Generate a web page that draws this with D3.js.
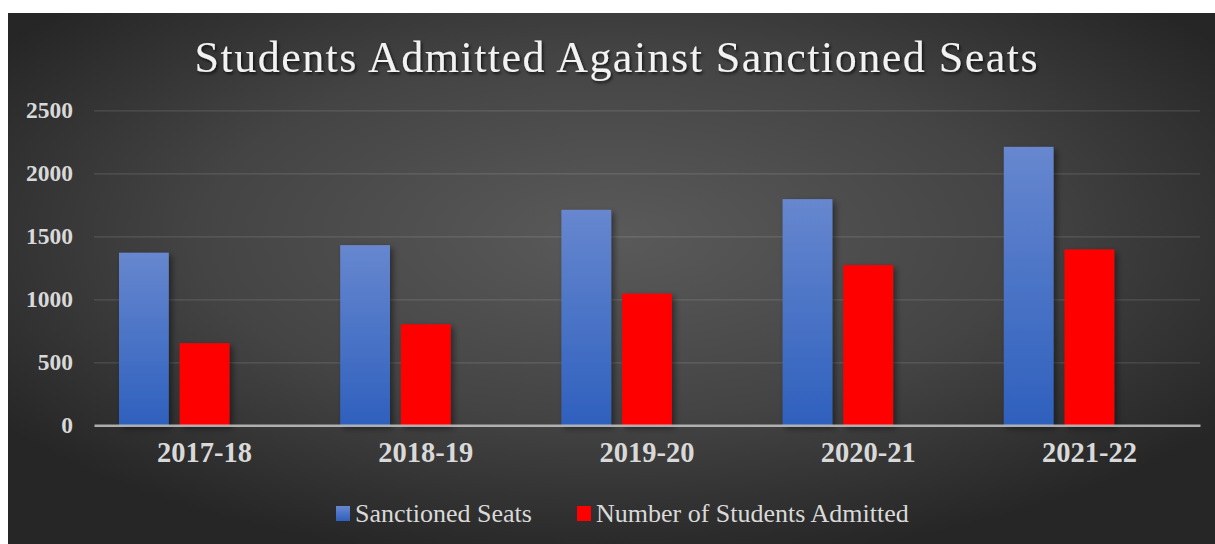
<!DOCTYPE html>
<html>
<head>
<meta charset="utf-8">
<script src="https://cdn.jsdelivr.net/npm/d3@7"></script>
<style>
  html, body { margin: 0; padding: 0; background: #ffffff; }
  svg { display: block; }
</style>
</head>
<body>
<svg id="chart" width="1215" height="544"></svg>
<script>
// Academic years on the category axis
const years = ["2017-18", "2018-19", "2019-20", "2020-21", "2021-22"];
// Series values per year
const sanctionedSeats = [1370, 1430, 1710, 1795, 2210];
const studentsAdmitted = [652, 802, 1045, 1272, 1396];
// Series names shown in the legend
const seriesNames = ["Sanctioned Seats", "Number of Students Admitted"];
// Value axis ticks
const yTicks = [0, 500, 1000, 1500, 2000, 2500];
const chartTitle = "Students Admitted Against Sanctioned Seats";

const svg = d3.select("#chart");
const W = 1215, H = 544;
const panel = { x: 8, y: 13, w: W - 8, h: H - 13 };
const plot = { left: 94, right: 1200, top: 110.3, bottom: 425.3 };

const defs = svg.append("defs");

// Dark radial backdrop, lighter toward the middle
const bg = defs.append("radialGradient").attr("id", "bg")
  .attr("cx", 0.5).attr("cy", 0.42).attr("r", 0.62);
bg.append("stop").attr("offset", 0).attr("stop-color", "#5a5a5a");
bg.append("stop").attr("offset", 0.55).attr("stop-color", "#444444");
bg.append("stop").attr("offset", 1).attr("stop-color", "#262626");

// Blue bar fill: light at the top, deeper at the base
const blue = defs.append("linearGradient").attr("id", "blueFill")
  .attr("x1", 0).attr("y1", 0).attr("x2", 0).attr("y2", 1);
blue.append("stop").attr("offset", 0).attr("stop-color", "#6787cf");
blue.append("stop").attr("offset", 1).attr("stop-color", "#2e60bd");

// Soft outer shadow for bars and title
const sh = defs.append("filter").attr("id", "shadow")
  .attr("x", "-20%").attr("y", "-20%").attr("width", "150%").attr("height", "150%");
sh.append("feDropShadow").attr("dx", 3).attr("dy", 3).attr("stdDeviation", 3)
  .attr("flood-color", "#000").attr("flood-opacity", 0.45);

const tsh = defs.append("filter").attr("id", "titleShadow")
  .attr("x", "-5%").attr("y", "-30%").attr("width", "110%").attr("height", "160%");
tsh.append("feDropShadow").attr("dx", 1.5).attr("dy", 2).attr("stdDeviation", 1.5)
  .attr("flood-color", "#000").attr("flood-opacity", 0.7);

svg.append("rect")
  .attr("x", panel.x).attr("y", panel.y)
  .attr("width", panel.w).attr("height", panel.h)
  .attr("fill", "url(#bg)");

// Scales
const x0 = d3.scaleBand().domain(years).range([plot.left, plot.right]).padding(0);
// Three slots per year; the last one stays empty, so each pair sits left of the tick centre
const slots = [0, 1, 2];
const groupInset = 25;
const x1 = d3.scaleBand().domain(slots)
  .range([groupInset, x0.bandwidth() - groupInset])
  .paddingInner(0.18).paddingOuter(0);
const y = d3.scaleLinear().domain([0, 2500]).range([plot.bottom, plot.top]);

// Gridlines and value labels
const yAxis = svg.append("g")
  .attr("transform", `translate(${plot.left},0)`)
  .call(d3.axisLeft(y).tickValues(yTicks)
    .tickSize(-(plot.right - plot.left)).tickPadding(21).tickFormat(d3.format("d")));
yAxis.select(".domain").remove();
yAxis.selectAll(".tick line")
  .attr("stroke", "#ffffff").attr("stroke-opacity", 0.13).attr("stroke-width", 1.3);
yAxis.selectAll(".tick").filter(d => d === 0).select("line").remove();
yAxis.selectAll(".tick text")
  .attr("fill", "#d9d9d9")
  .style("font-family", "'Liberation Serif', serif")
  .style("font-weight", "bold")
  .style("font-size", "23.5px");

// Bars
const series = [
  { name: seriesNames[0], values: sanctionedSeats, fill: "url(#blueFill)" },
  { name: seriesNames[1], values: studentsAdmitted, fill: "#ff0000" }
];

const groups = svg.append("g").selectAll("g")
  .data(years)
  .join("g")
  .attr("transform", d => `translate(${x0(d)},0)`);

groups.selectAll("rect")
  .data((d, i) => series.map((s, si) => ({ slot: slots[si], value: s.values[i], fill: s.fill })))
  .join("rect")
  .attr("x", d => x1(d.slot))
  .attr("width", x1.bandwidth())
  .attr("y", d => y(d.value))
  .attr("height", d => y(0) - y(d.value))
  .attr("fill", d => d.fill)
  .attr("filter", "url(#shadow)");

// Category axis
const xAxis = svg.append("g")
  .attr("transform", `translate(0,${plot.bottom})`)
  .call(d3.axisBottom(x0).tickSize(0).tickSizeOuter(0).tickPadding(16));
xAxis.select(".domain")
  .attr("stroke", "#c4c4c4").attr("stroke-width", 2.5).attr("stroke-opacity", 0.85);
xAxis.selectAll(".tick text")
  .attr("fill", "#d9d9d9")
  .attr("dy", "0.71em")
  .style("font-family", "'Liberation Serif', serif")
  .style("font-weight", "bold")
  .style("font-size", "28.5px");

// Title
svg.append("text")
  .attr("x", 616).attr("y", 72)
  .attr("text-anchor", "middle")
  .attr("textLength", 843).attr("lengthAdjust", "spacing")
  .attr("fill", "#f2f2f2")
  .attr("filter", "url(#titleShadow)")
  .style("font-family", "'Liberation Serif', serif")
  .style("font-size", "44px")
  .text(chartTitle);

// Legend
const legendItems = [
  { name: seriesNames[0], fill: "url(#blueFill)", x: 336 },
  { name: seriesNames[1], fill: "#ff0000", x: 577 }
];
const legend = svg.append("g").selectAll("g")
  .data(legendItems)
  .join("g")
  .attr("transform", d => `translate(${d.x},506)`);
legend.append("rect")
  .attr("width", 14).attr("height", 15)
  .attr("fill", d => d.fill);
legend.append("text")
  .attr("x", 19).attr("y", 16)
  .attr("fill", "#d9d9d9")
  .style("font-family", "'Liberation Serif', serif")
  .style("font-size", "26px")
  .text(d => d.name);
</script>
</body>
</html>
